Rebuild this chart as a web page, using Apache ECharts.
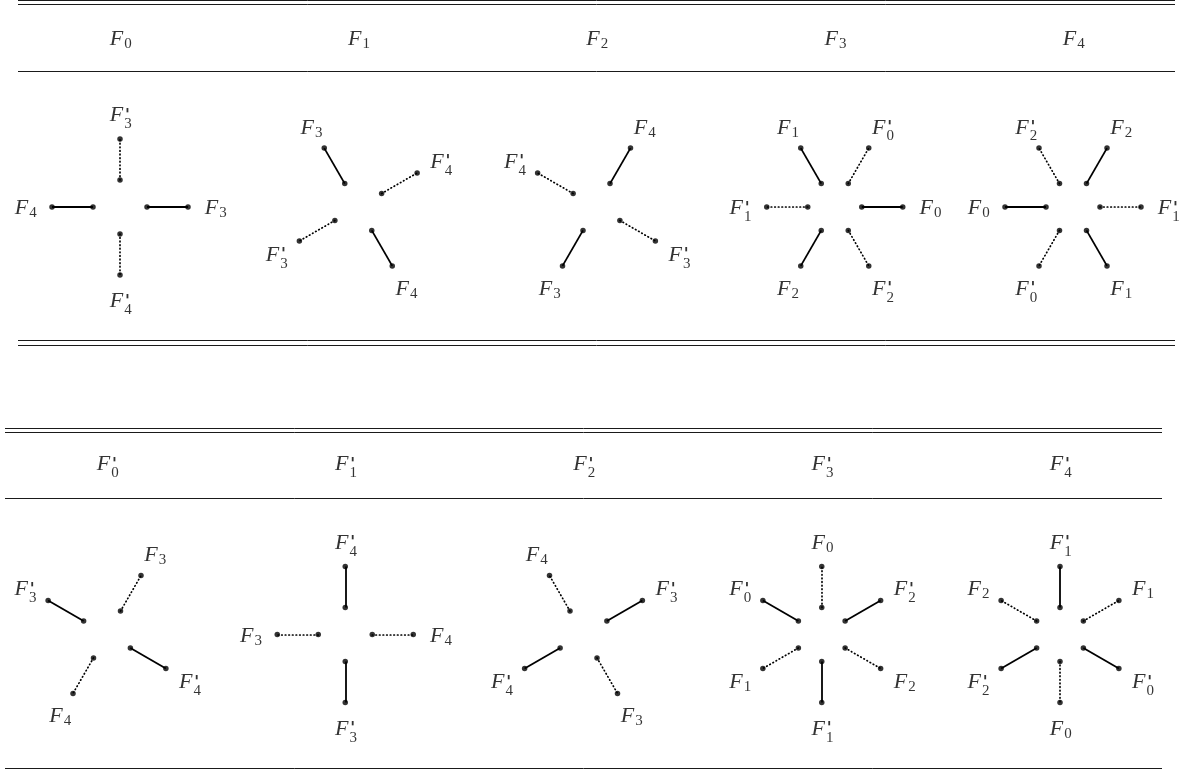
<!DOCTYPE html>
<html>
<head>
<meta charset="utf-8">
<script src="https://cdn.jsdelivr.net/npm/echarts@6/dist/echarts.min.js"></script>
<style>
  html, body { margin: 0; padding: 0; background: #fff; }
  #chart { width: 1200px; height: 773px; }
</style>
</head>
<body>
<div id="chart"></div>
<script>
// column heads of the two tables
var topHeads = ["F0", "F1", "F2", "F3", "F4"];
var bottomHeads = ["F0'", "F1'", "F2'", "F3'", "F4'"];

// spokes of each star: [angle in degrees, counter-clockwise from east, end label, 1 = solid, 0 = dotted]
var topSpokes = [
  [[90, "F3'", 0], [180, "F4", 1], [0, "F3", 1], [270, "F4'", 0]],
  [[120, "F3", 1], [30, "F4'", 0], [210, "F3'", 0], [300, "F4", 1]],
  [[60, "F4", 1], [150, "F4'", 0], [330, "F3'", 0], [240, "F3", 1]],
  [[120, "F1", 1], [60, "F0'", 0], [180, "F1'", 0], [0, "F0", 1], [240, "F2", 1], [300, "F2'", 0]],
  [[120, "F2'", 0], [60, "F2", 1], [180, "F0", 1], [0, "F1'", 0], [240, "F0'", 0], [300, "F1", 1]]
];
var bottomSpokes = [
  [[150, "F3'", 1], [60, "F3", 0], [240, "F4", 0], [330, "F4'", 1]],
  [[90, "F4'", 1], [180, "F3", 0], [0, "F4", 0], [270, "F3'", 1]],
  [[120, "F4", 0], [30, "F3'", 1], [210, "F4'", 1], [300, "F3", 0]],
  [[90, "F0", 0], [150, "F0'", 1], [30, "F2'", 1], [210, "F1", 0], [270, "F1'", 1], [330, "F2", 0]],
  [[90, "F1'", 1], [150, "F2", 0], [30, "F1", 0], [210, "F2'", 1], [270, "F0", 0], [330, "F0'", 1]]
];

// page layout (pixels)
var tables = [
  { heads: topHeads, spokes: topSpokes, left: 18, right: 1175, col0: 120, step: 238.25,
    headBase: 46.7, starY: 207, rules: [0.5, 4.5, 71, 340.5, 345] },
  { heads: bottomHeads, spokes: bottomSpokes, left: 5, right: 1162, col0: 107, step: 238.25,
    headBase: 471.5, starY: 634.5, rules: [428, 432.5, 498.5, 768.5] }
];
var innerR = 27, outerR = 68, labelRx = 95, labelRy = 93;

var ruleLines = [], solidLines = [], dottedLines = [], dots = [];
var letters = [], subs = [], primes = [];

function addLabel(text, lx, base) {
  var primed = text.indexOf("'") >= 0;
  var digit = text.replace("'", "").slice(1);
  letters.push({ name: text.charAt(0), value: [lx - 2.5, base - 7] });
  subs.push({ name: digit, value: [lx + 9, primed ? base + 1.6 : base - 2.2] });
  if (primed) primes.push({ name: "'", value: [lx + 8.5, base - 7] });
}

tables.forEach(function (t) {
  t.rules.forEach(function (y) {
    ruleLines.push({ coords: [[t.left, y], [t.right, y]] });
  });
  t.heads.forEach(function (h, i) {
    var cx = t.col0 + i * t.step, cy = t.starY;
    addLabel(h, cx - 1, t.headBase);
    t.spokes[i].forEach(function (s) {
      var a = s[0] * Math.PI / 180, c = Math.cos(a), sn = -Math.sin(a);
      var p1 = [cx + innerR * c, cy + innerR * sn];
      var p2 = [cx + outerR * c, cy + outerR * sn];
      (s[2] ? solidLines : dottedLines).push({ coords: [p1, p2] });
      dots.push(p1, p2);
      var lx = cx + labelRx * c - 1, ly = cy + labelRy * sn + 4;
      addLabel(s[1], lx, ly + 4.5);
    });
  });
});

var myChart = echarts.init(document.getElementById('chart'));

function textSeries(data, size, italic, family, weight) {
  return {
    type: 'scatter', data: data, symbolSize: 1, silent: true, z: 5,
    itemStyle: { color: 'rgba(0,0,0,0)' },
    label: {
      show: true, position: 'inside', formatter: '{b}', color: '#000',
      fontFamily: family, fontSize: size, fontWeight: weight || 'normal',
      fontStyle: italic ? 'italic' : 'normal'
    }
  };
}

var option = {
  animation: false,
  grid: { left: 0, right: 0, top: 0, bottom: 0 },
  xAxis: { type: 'value', min: 0, max: 1200, show: false },
  yAxis: { type: 'value', min: 0, max: 773, inverse: true, show: false },
  series: [
    { type: 'lines', coordinateSystem: 'cartesian2d', data: ruleLines, silent: true,
      lineStyle: { color: '#1a1a1a', width: 1, opacity: 1 } },
    { type: 'lines', coordinateSystem: 'cartesian2d', data: solidLines, silent: true,
      lineStyle: { color: '#000', width: 1.8, opacity: 1 } },
    { type: 'lines', coordinateSystem: 'cartesian2d', data: dottedLines, silent: true,
      lineStyle: { color: '#000', width: 1.7, opacity: 1, type: [0.6, 3], cap: 'round' } },
    { type: 'scatter', data: dots, symbolSize: 5.5, silent: true,
      itemStyle: { color: '#000' } },
    textSeries(letters, 22, true, 'Liberation Serif'),
    textSeries(subs, 15, false, 'Liberation Serif'),
    textSeries(primes, 16, true, 'DejaVu Sans', 'bold')
  ]
};

myChart.setOption(option);
</script>
</body>
</html>
